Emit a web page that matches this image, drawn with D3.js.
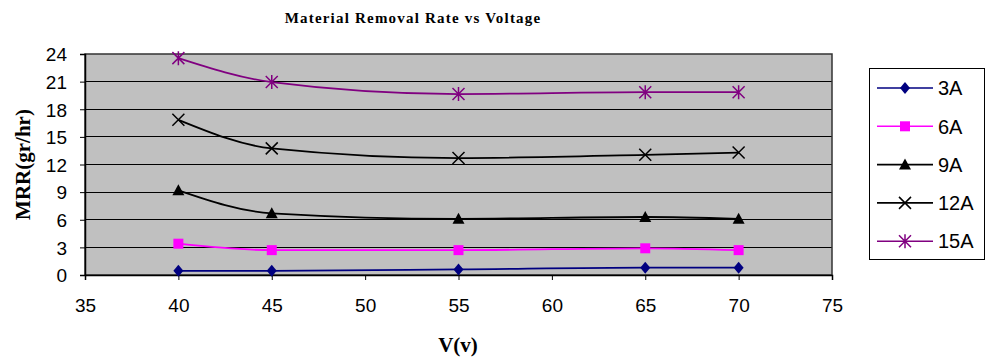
<!DOCTYPE html>
<html lang="en">
<head>
  <meta charset="UTF-8">
  <title>Material Removal Rate vs Voltage</title>
  <script src="https://d3js.org/d3.v7.min.js"></script>
  <style>
    body { margin: 0; background: #fff; }
    .tick text { font-family: Arial, "Liberation Sans", sans-serif; font-size: 19px; fill: #000; }
    .title { font-family: "Times New Roman", "Liberation Serif", serif; font-weight: bold; font-size: 15px; letter-spacing: 1.2px; }
    .axis-title { font-family: "Times New Roman", "Liberation Serif", serif; font-weight: bold; font-size: 21px; }
    .legend text { font-family: Arial, "Liberation Sans", sans-serif; font-size: 20px; }
  </style>
</head>
<body>
  <svg width="986" height="362"></svg>

  <script>
    const voltages = [40, 45, 55, 65, 70];
    const seriesNames = ["3A", "6A", "9A", "12A", "15A"];
    const mrr3A  = [0.45, 0.45, 0.6, 0.8, 0.8];
    const mrr6A  = [3.4, 2.7, 2.7, 2.9, 2.7];
    const mrr9A  = [9.2, 6.7, 6.1, 6.3, 6.1];
    const mrr12A = [16.85, 13.75, 12.7, 13.05, 13.3];
    const mrr15A = [23.55, 20.95, 19.65, 19.85, 19.85];
    const xTicks = [35, 40, 45, 50, 55, 60, 65, 70, 75];
    const yTicks = [0, 3, 6, 9, 12, 15, 18, 21, 24];

    const series = [
      { name: seriesNames[0], values: mrr3A,  color: "#000080", marker: "diamond" },
      { name: seriesNames[1], values: mrr6A,  color: "#FF00FF", marker: "square" },
      { name: seriesNames[2], values: mrr9A,  color: "#000000", marker: "triangle" },
      { name: seriesNames[3], values: mrr12A, color: "#000000", marker: "cross" },
      { name: seriesNames[4], values: mrr15A, color: "#800080", marker: "star" }
    ];

    const svg = d3.select("svg");
    const plot = { left: 85, top: 54, right: 832, bottom: 275 };

    const x = d3.scaleLinear().domain([35, 75]).range([plot.left, plot.right]);
    const y = d3.scaleLinear().domain([0, 24]).range([plot.bottom, plot.top]);

    // plot area
    svg.append("rect")
      .attr("x", plot.left).attr("y", plot.top)
      .attr("width", plot.right - plot.left).attr("height", plot.bottom - plot.top)
      .attr("fill", "#C0C0C0");

    // gridlines
    svg.append("g")
      .selectAll("line")
      .data(yTicks.filter(t => t > 0 && t < 24))
      .join("line")
      .attr("x1", plot.left).attr("x2", plot.right)
      .attr("y1", d => y(d)).attr("y2", d => y(d))
      .attr("stroke", "#000").attr("stroke-width", 1)
      .attr("shape-rendering", "crispEdges");

    // border
    svg.append("rect")
      .attr("x", plot.left).attr("y", plot.top)
      .attr("width", plot.right - plot.left).attr("height", plot.bottom - plot.top)
      .attr("fill", "none").attr("stroke", "#333").attr("stroke-width", 1.5);

    // axes
    const xAxis = svg.append("g")
      .attr("transform", `translate(0,${plot.bottom})`)
      .call(d3.axisBottom(x).tickValues(xTicks).tickSize(5).tickPadding(19));
    xAxis.select(".domain").attr("stroke", "#000").attr("stroke-width", 1.5);

    const yAxis = svg.append("g")
      .attr("transform", `translate(${plot.left},0)`)
      .call(d3.axisLeft(y).tickValues(yTicks).tickSize(5).tickPadding(13));
    yAxis.select(".domain").attr("stroke", "#000").attr("stroke-width", 1.5);
    yAxis.selectAll(".tick text").attr("dy", "0.36em");

    // lines
    const line = d3.line()
      .x((d, i) => x(voltages[i]))
      .y(d => y(d))
      .curve(d3.curveMonotoneX);

    svg.append("g")
      .selectAll("path")
      .data(series)
      .join("path")
      .attr("d", d => line(d.values))
      .attr("fill", "none")
      .attr("stroke", d => d.color)
      .attr("stroke-width", 1.8);

    function drawMarker(g, type, color) {
      if (type === "diamond") {
        g.append("path").attr("d", "M0,-6L5,0L0,6L-5,0Z").attr("fill", color);
      } else if (type === "square") {
        g.append("rect").attr("x", -5).attr("y", -5).attr("width", 10).attr("height", 10).attr("fill", color);
      } else if (type === "triangle") {
        g.append("path").attr("d", "M0,-6L6,5L-6,5Z").attr("fill", color);
      } else if (type === "cross") {
        g.append("path").attr("d", "M-6,-6L6,6M-6,6L6,-6").attr("stroke", color).attr("stroke-width", 1.5);
      } else if (type === "star") {
        g.append("path").attr("d", "M-6,-6L6,6M-6,6L6,-6M0,-7L0,7")
          .attr("stroke", color).attr("stroke-width", 1.5);
      }
    }

    series.forEach(s => {
      s.values.forEach((v, i) => {
        const g = svg.append("g").attr("transform", `translate(${x(voltages[i])},${y(v)})`);
        drawMarker(g, s.marker, s.color);
      });
    });

    // titles
    svg.append("text").attr("class", "title")
      .attr("x", 413).attr("y", 23).attr("text-anchor", "middle")
      .text("Material Removal Rate vs Voltage");

    svg.append("text").attr("class", "axis-title")
      .attr("x", 458).attr("y", 352).attr("text-anchor", "middle")
      .text("V(v)");

    svg.append("text").attr("class", "axis-title")
      .attr("transform", `translate(30,${(plot.top + plot.bottom) / 2}) rotate(-90)`)
      .attr("text-anchor", "middle")
      .text("MRR(gr/hr)");

    // legend
    const legend = svg.append("g").attr("class", "legend");
    legend.append("rect")
      .attr("x", 869.5).attr("y", 68.5).attr("width", 115).attr("height", 191)
      .attr("fill", "#fff").attr("stroke", "#000").attr("stroke-width", 1);

    series.forEach((s, i) => {
      const ly = 88 + i * 38.3;
      const g = legend.append("g");
      g.append("line").attr("x1", 877).attr("x2", 933).attr("y1", ly).attr("y2", ly)
        .attr("stroke", s.color).attr("stroke-width", 1.6);
      const m = g.append("g").attr("transform", `translate(905,${ly})`);
      drawMarker(m, s.marker, s.color);
      g.append("text").attr("x", 938).attr("y", ly).attr("dy", "0.36em").text(s.name);
    });
  </script>
</body>
</html>
